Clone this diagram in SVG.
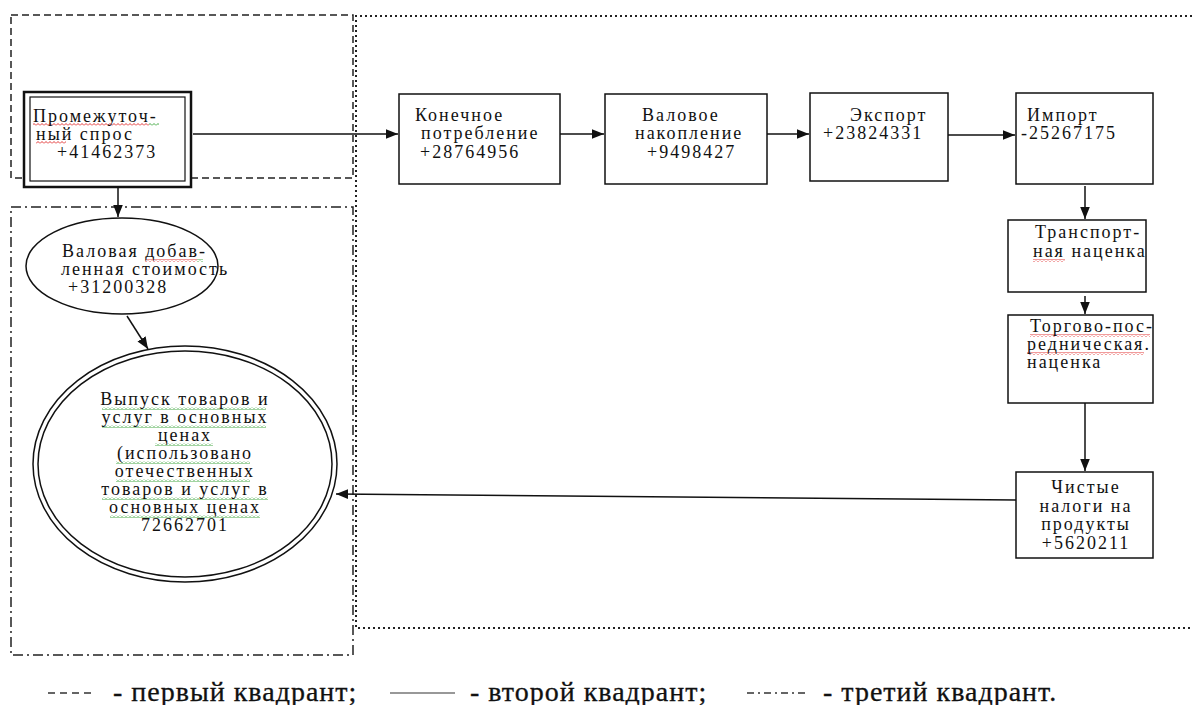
<svg xmlns="http://www.w3.org/2000/svg" width="1192" height="705" viewBox="0 0 1192 705">
<style>
  .t{font-family:"Liberation Serif","Times New Roman",serif;font-size:18px;letter-spacing:2px;fill:#111}
  .c{text-anchor:middle}
  .lg{font-family:"Liberation Serif","Times New Roman",serif;font-size:28px;letter-spacing:1px;fill:#111;stroke:#111;stroke-width:0.3}
  .box{fill:#fff;stroke:#111;stroke-width:1.5}
  .ell{fill:#fff;stroke:#111;stroke-width:1.5}
  .conn{stroke:#111;stroke-width:1.5;fill:none;marker-end:url(#ah)}
  .q1{fill:none;stroke:#222;stroke-width:1.5;stroke-dasharray:7 4}
  .q2{fill:none;stroke:#222;stroke-width:2;stroke-dasharray:2 3}
  .q3{fill:none;stroke:#222;stroke-width:1.5;stroke-dasharray:10 4 2 4}
</style>
<defs>
  <marker id="ah" viewBox="0 0 10 8" refX="10" refY="4" markerWidth="12" markerHeight="10" markerUnits="userSpaceOnUse" orient="auto">
    <path d="M0 0 L10 4 L0 8 Z" fill="#111"/>
  </marker>
  <pattern id="wr" width="4" height="3" patternUnits="userSpaceOnUse">
    <path d="M0 2.5 L2 0.5 L4 2.5" fill="none" stroke="#e02020" stroke-width="0.9"/>
  </pattern>
  <pattern id="wg" width="4" height="3" patternUnits="userSpaceOnUse">
    <path d="M0 2.5 L2 0.5 L4 2.5" fill="none" stroke="#30a030" stroke-width="0.9"/>
  </pattern>
</defs>
<rect width="1192" height="705" fill="#fff"/>

<g id="quadrants">
  <rect class="q1" x="11" y="15" width="342" height="163"/>
  <path class="q2" d="M1192 16 H356 V628 H1192"/>
  <rect class="q3" x="11" y="207" width="342" height="448"/>
</g>

<g id="connectors">
  <path class="conn" d="M193 134 H398"/>
  <path class="conn" d="M560 134 H604"/>
  <path class="conn" d="M767 134 H809"/>
  <path class="conn" d="M948 135 H1015"/>
  <path class="conn" d="M1085 186 V219"/>
  <path class="conn" d="M1085 296 V314"/>
  <path class="conn" d="M1085 403 V471"/>
  <path class="conn" d="M1016 500 L336 494"/>
  <path class="conn" d="M118 187 V217"/>
  <path class="conn" d="M127 316 L148 349"/>
</g>

<g id="intermediate">
  <rect x="24" y="92" width="167" height="95" fill="#fff" stroke="#111" stroke-width="2.5"/>
  <rect x="30" y="97" width="155" height="84" fill="none" stroke="#111" stroke-width="1.2"/>
  <rect x="33" y="123" width="116" height="3" fill="url(#wr)"/>
  <rect x="149" y="123" width="10" height="3" fill="url(#wg)"/>
  <rect x="36" y="141" width="30" height="3" fill="url(#wr)"/>
  <text class="t" x="33" y="122">Промежуточ-</text>
  <text class="t" x="36" y="140">ный спрос</text>
  <text class="t" x="57" y="158">+41462373</text>
</g>

<g id="final-consumption">
  <rect class="box" x="399" y="94" width="161" height="90"/>
  <text class="t" x="415" y="121">Конечное</text>
  <text class="t" x="421" y="139">потребление</text>
  <text class="t" x="420" y="158">+28764956</text>
</g>

<g id="gross-accumulation">
  <rect class="box" x="605" y="94" width="162" height="90"/>
  <text class="t" x="642" y="121">Валовое</text>
  <text class="t" x="635" y="139">накопление</text>
  <text class="t" x="647" y="158">+9498427</text>
</g>

<g id="export">
  <rect class="box" x="810" y="93" width="138" height="88"/>
  <text class="t" x="850" y="121">Экспорт</text>
  <text class="t" x="823" y="139">+23824331</text>
</g>

<g id="import">
  <rect class="box" x="1016" y="93" width="137" height="91"/>
  <text class="t" x="1027" y="121">Импорт</text>
  <text class="t" x="1021" y="139">-25267175</text>
</g>

<g id="transport">
  <rect class="box" x="1008" y="220" width="138" height="72"/>
  <rect x="1033" y="259" width="32" height="3" fill="url(#wr)"/>
  <text class="t" x="1035" y="238">Транспорт-</text>
  <text class="t" x="1033" y="257">ная наценка</text>
</g>

<g id="trade">
  <rect class="box" x="1008" y="315" width="145" height="88"/>
  <rect x="1030" y="334" width="120" height="3" fill="url(#wr)"/>
  <rect x="1027" y="352" width="117" height="3" fill="url(#wr)"/>
  <text class="t" x="1030" y="332">Торгово-пос-</text>
  <text class="t" x="1027" y="350">редническая.</text>
  <text class="t" x="1027" y="368">наценка</text>
</g>

<g id="net-taxes">
  <rect class="box" x="1016" y="472" width="137" height="86"/>
  <text class="t c" x="1086" y="493">Чистые</text>
  <text class="t c" x="1086" y="512">налоги на</text>
  <text class="t c" x="1086" y="530">продукты</text>
  <text class="t c" x="1086" y="549">+5620211</text>
</g>

<g id="gross-value-added">
  <ellipse class="ell" cx="122" cy="266" rx="96" ry="48"/>
  <rect x="145" y="259" width="52" height="3" fill="url(#wr)"/>
  <rect x="197" y="259" width="6" height="3" fill="url(#wg)"/>
  <text class="t" x="62" y="257">Валовая добав-</text>
  <text class="t" x="61" y="275">ленная стоимость</text>
  <text class="t" x="68" y="293">+31200328</text>
</g>

<g id="output">
  <ellipse class="ell" cx="185" cy="464" rx="152" ry="118"/>
  <ellipse class="ell" cx="185" cy="464" rx="147" ry="113"/>
  <rect x="102" y="407" width="164" height="3" fill="url(#wg)"/>
  <rect x="102" y="425" width="164" height="3" fill="url(#wg)"/>
  <rect x="155" y="443" width="58" height="3" fill="url(#wg)"/>
  <rect x="116" y="461" width="134" height="3" fill="url(#wg)"/>
  <rect x="116" y="479" width="134" height="3" fill="url(#wg)"/>
  <rect x="102" y="497" width="166" height="3" fill="url(#wg)"/>
  <rect x="110" y="515" width="150" height="3" fill="url(#wg)"/>
  <text class="t c" x="185" y="405">Выпуск товаров и</text>
  <text class="t c" x="185" y="423">услуг в основных</text>
  <text class="t c" x="185" y="441">ценах</text>
  <text class="t c" x="185" y="459">(использовано</text>
  <text class="t c" x="185" y="477">отечественных</text>
  <text class="t c" x="185" y="495">товаров и услуг в</text>
  <text class="t c" x="185" y="513">основных ценах</text>
  <text class="t c" x="185" y="531">72662701</text>
</g>

<g id="legend">
  <line x1="48" y1="693" x2="92" y2="693" stroke="#333" stroke-width="1.5" stroke-dasharray="7 5"/>
  <text class="lg" x="113" y="701">- первый квадрант;</text>
  <line x1="390" y1="693" x2="455" y2="693" stroke="#333" stroke-width="1.2"/>
  <text class="lg" x="470" y="701">- второй квадрант;</text>
  <line x1="747" y1="693" x2="807" y2="693" stroke="#333" stroke-width="1.5" stroke-dasharray="7 4 2 4"/>
  <text class="lg" x="823" y="701">- третий квадрант.</text>
</g>
</svg>
